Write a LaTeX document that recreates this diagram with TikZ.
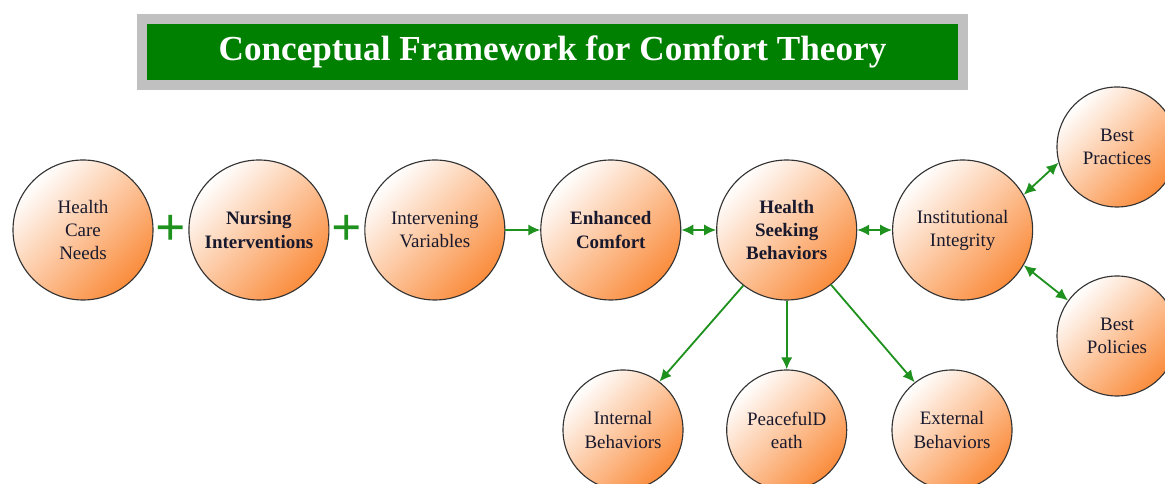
\documentclass[tikz,border=0pt]{standalone}
\usepackage{fontspec}
\setmainfont{Liberation Serif}
\usetikzlibrary{shapes,arrows,arrows.meta,positioning,calc}

\definecolor{titlegreen}{RGB}{0,128,0}
\definecolor{framegray}{RGB}{192,192,192}
\definecolor{arrowgreen}{RGB}{30,145,30}
\definecolor{peach}{RGB}{250,140,60}
\definecolor{inktext}{RGB}{25,25,45}

\begin{document}
\begin{tikzpicture}[
  concept/.style={draw=black!80, circle, line width=0.8pt, minimum size=3.5cm, inner sep=0pt, align=center,
    top color=white, bottom color=peach, shading angle=45, text=inktext,
    font=\fontsize{13.5}{16.4}\selectfont},
  keyconcept/.style={concept, font=\fontsize{13.5}{16.4}\selectfont\bfseries},
  small/.style={concept, minimum size=3cm},
  link/.style={arrowgreen, line width=1.3pt, -{Latex[length=8.5pt,width=8pt]}},
  both/.style={link, {Latex[length=8.5pt,width=8pt]}-{Latex[length=8.5pt,width=8pt]}},
  plus/.style={text=arrowgreen, inner sep=0pt, font=\fontsize{38}{38}\selectfont\bfseries}
]
\clip (0,0) rectangle (29.125,12.1);

% Titel
\node[fill=framegray, minimum width=20.775cm, minimum height=1.9cm, inner sep=0pt] (frame) at (13.8125,10.8) {};
\node[fill=titlegreen, minimum width=20.275cm, minimum height=1.4cm, inner sep=0pt, text=white,
  font=\fontsize{25}{25}\selectfont\bfseries] (title) at (13.8125,10.8) {Conceptual Framework for Comfort Theory};

% Hauptreihe
\node[concept] (needs) at (2.075,6.35) {Health\\Care\\Needs};
\node[keyconcept, right=0.87cm of needs] (nursing) {Nursing\\Interventions};
\node[concept, right=0.87cm of nursing] (variables) {Intervening\\Variables};
\node[keyconcept, right=0.87cm of variables] (comfort) {Enhanced\\Comfort};
\node[keyconcept, right=0.87cm of comfort] (seeking) {Health\\Seeking\\Behaviors};
\node[concept, right=0.87cm of seeking] (integrity) {Institutional\\Integrity};

% Plus-Zeichen
\node[plus] (plusA) at ($(needs.east)!0.5!(nursing.west)$) {+};
\node[plus] (plusB) at ($(nursing.east)!0.5!(variables.west)$) {+};

% rechte Seite
\node[small] (practices) at (27.925,8.425) {Best\\Practices};
\node[small] (policies) at (27.925,3.7) {Best\\Policies};

% untere Reihe
\node[small] (internal) at (15.575,1.35) {Internal\\Behaviors};
\node[small] (peaceful) at (seeking |- internal) {PeacefulD\\eath};
\node[small] (external) at (23.8,1.35) {External\\Behaviors};

% Pfeile
\draw[link] (variables) -- (comfort);
\draw[both] (comfort) -- (seeking);
\draw[both] (seeking) -- (integrity);
\draw[both] (integrity.30) -- (practices.195);
\draw[both] (integrity.-30) -- (policies.144);
\draw[link] (seeking.-128) -- (internal.53);
\draw[link] (seeking) -- (peaceful);
\draw[link] (seeking.-51) -- (external.128);
\end{tikzpicture}
\end{document}
